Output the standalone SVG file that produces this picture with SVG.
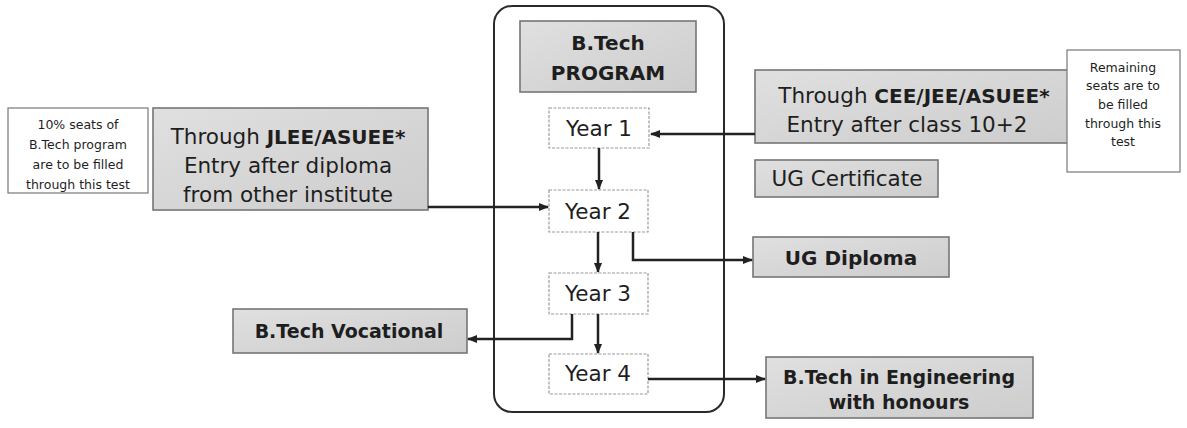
<svg xmlns="http://www.w3.org/2000/svg" width="1187" height="428" viewBox="0 0 1187 428">
<defs>
<linearGradient id="g" x1="0" y1="0" x2="1" y2="1">
<stop offset="0" stop-color="#e0e0e0"/>
<stop offset="0.5" stop-color="#d6d6d6"/>
<stop offset="1" stop-color="#cdcdcd"/>
</linearGradient>
<marker id="ah" viewBox="0 0 10 10" refX="9" refY="5" markerWidth="4" markerHeight="4" orient="auto" markerUnits="strokeWidth">
<path d="M0,1 L10,5 L0,9 Z" fill="#222"/>
</marker>
</defs>
<style>
text{font-family:"DejaVu Sans","Open Sans","Liberation Sans",sans-serif;fill:#1e1e1e;text-anchor:middle}
.gray{fill:url(#g);stroke:#767676;stroke-width:1.6}
.note{fill:#fff;stroke:#777;stroke-width:1.2}
.yr{fill:#fff;stroke:#9a9a9a;stroke-width:1.2;stroke-dasharray:3 1.5}
.big{font-size:21.5px}
.b{font-weight:700}
.sm{font-size:12.5px}
.yt{font-size:21.5px}
.conn{fill:none;stroke:#222;stroke-width:2.5;marker-end:url(#ah)}
</style>
<rect width="1187" height="428" fill="#fff"/>
<g id="program-frame">
<rect x="494" y="6" width="230" height="406" rx="18" fill="none" stroke="#2a2a2a" stroke-width="2"/>
</g>
<g id="btech-program">
<rect class="gray" x="520" y="21" width="176" height="71"/>
<text class="b" style="font-size:20px" x="608" y="50">B.Tech</text>
<text class="b" style="font-size:20px" x="608" y="80">PROGRAM</text>
</g>
<g id="year1">
<rect class="yr" x="549" y="108" width="100" height="40"/>
<text class="yt" x="599" y="136">Year 1</text>
</g>
<g id="year2">
<rect class="yr" x="549" y="190" width="99" height="42"/>
<text class="yt" x="598" y="219">Year 2</text>
</g>
<g id="year3">
<rect class="yr" x="549" y="273" width="99" height="41"/>
<text class="yt" x="598" y="301">Year 3</text>
</g>
<g id="year4">
<rect class="yr" x="549" y="354" width="99" height="40"/>
<text class="yt" x="598" y="381">Year 4</text>
</g>
<g id="note-left">
<rect class="note" x="8" y="108" width="140" height="85"/>
<text class="sm" x="78" y="129">10% seats of</text>
<text class="sm" x="78" y="149">B.Tech program</text>
<text class="sm" x="78" y="169">are to be filled</text>
<text class="sm" x="78" y="189">through this test</text>
</g>
<g id="jlee">
<rect class="gray" x="153" y="108" width="275" height="102"/>
<text class="big" x="288" y="144">Through <tspan class="b" style="font-size:20px">JLEE/ASUEE*</tspan></text>
<text class="big" x="288" y="173">Entry after diploma</text>
<text class="big" x="288" y="202">from other institute</text>
</g>
<g id="cee">
<rect class="gray" x="755" y="70" width="313" height="73"/>
<text class="big" x="914" y="103">Through <tspan class="b" style="font-size:20px">CEE/JEE/ASUEE*</tspan></text>
<text class="big" x="907" y="132">Entry after class 10+2</text>
</g>
<g id="note-right">
<rect class="note" x="1067" y="50" width="113" height="122"/>
<text class="sm" x="1123" y="72">Remaining</text>
<text class="sm" x="1123" y="90">seats are to</text>
<text class="sm" x="1123" y="109">be filled</text>
<text class="sm" x="1123" y="128">through this</text>
<text class="sm" x="1123" y="146">test</text>
</g>
<g id="ug-certificate">
<rect class="gray" x="755" y="160" width="183" height="37"/>
<text class="big" x="847" y="186">UG Certificate</text>
</g>
<g id="ug-diploma">
<rect class="gray" x="753" y="237" width="196" height="40"/>
<text class="b" style="font-size:20px" x="851" y="265">UG Diploma</text>
</g>
<g id="btech-vocational">
<rect class="gray" x="233" y="309" width="234" height="44"/>
<text class="b" style="font-size:19px" x="349" y="338">B.Tech Vocational</text>
</g>
<g id="btech-engineering">
<rect class="gray" x="766" y="357" width="267" height="61"/>
<text class="b" style="font-size:19px" x="899" y="384">B.Tech in Engineering</text>
<text class="b" style="font-size:19px" x="899" y="409">with honours</text>
</g>
<g id="connectors">
<path class="conn" d="M755,134 H651"/>
<path class="conn" d="M599,148 V189"/>
<path class="conn" d="M428,207 H548"/>
<path class="conn" d="M598,232 V272"/>
<path class="conn" d="M633,232 V260 H752"/>
<path class="conn" d="M598,314 V353"/>
<path class="conn" d="M572,314 V339 H468"/>
<path class="conn" d="M648,379 H765"/>
</g>
</svg>
